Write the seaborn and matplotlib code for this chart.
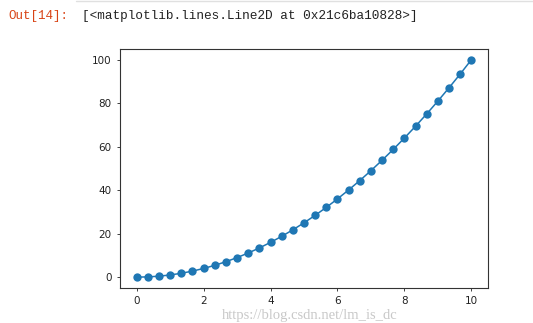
import matplotlib
matplotlib.use("Agg")
import matplotlib.pyplot as plt
import seaborn as sns
import pandas as pd

x_vals = [0.0, 0.333, 0.667, 1.0, 1.333, 1.667, 2.0, 2.333, 2.667, 3.0,
          3.333, 3.667, 4.0, 4.333, 4.667, 5.0, 5.333, 5.667, 6.0, 6.333,
          6.667, 7.0, 7.333, 7.667, 8.0, 8.333, 8.667, 9.0, 9.333, 9.667, 10.0]
y_vals = [0.0, 0.11, 0.44, 1.0, 1.78, 2.78, 4.0, 5.44, 7.11, 9.0,
          11.11, 13.44, 16.0, 18.78, 21.78, 25.0, 28.44, 32.11, 36.0, 40.11,
          44.44, 49.0, 53.78, 58.78, 64.0, 69.44, 75.11, 81.0, 87.11, 93.44, 100.0]
x_ticks = [0, 2, 4, 6, 8, 10]
y_ticks = [0, 20, 40, 60, 80, 100]

df = pd.DataFrame({"x": x_vals, "y": y_vals})

sns.set_style("ticks")
plt.rcParams['font.family'] = ['DejaVu Sans']

W, H = 533, 323
fig = plt.figure(figsize=(W / 100, H / 100), dpi=100)
ax = fig.add_axes([120 / W, 1 - 288 / H, (488 - 120) / W, (288 - 49) / H])

sns.lineplot(data=df, x="x", y="y", ax=ax, marker="o", color="#1f77b4",
             linewidth=1.1, markersize=6, markeredgewidth=0, alpha=1)
ax.set_xlim(-0.5, 10.5)
ax.set_ylim(-5, 105)
ax.set_xticks(x_ticks)
ax.set_yticks(y_ticks)
ax.set_xlabel("")
ax.set_ylabel("")
ax.tick_params(labelsize=7.5, length=2.5, width=0.6, colors="#222222")
for s in ax.spines.values():
    s.set_linewidth(0.8)
    s.set_color("#333333")
    s.set_visible(True)

# Jupyter output header
fig.add_artist(plt.Line2D([76 / W, 1], [1 - 1 / H, 1 - 1 / H], color="#e0e0e0", linewidth=1))
fig.text(8 / W, 1 - 16 / H, "Out[14]:", color="#d84315", fontsize=9,
         family=["Liberation Mono", "DejaVu Sans Mono"], va="center")
fig.text(82 / W, 1 - 16 / H, "[<matplotlib.lines.Line2D at 0x21c6ba10828>]", color="#222222",
         fontsize=9.2, family=["Liberation Mono", "DejaVu Sans Mono"], va="center")
# watermark
fig.text(222 / W, 1 - 315 / H, "https://blog.csdn.net/lm_is_dc", color="#c8c8c8",
         fontsize=10.5, family=["Liberation Serif", "DejaVu Serif"], va="center")

fig.savefig("out.png", dpi=100)
